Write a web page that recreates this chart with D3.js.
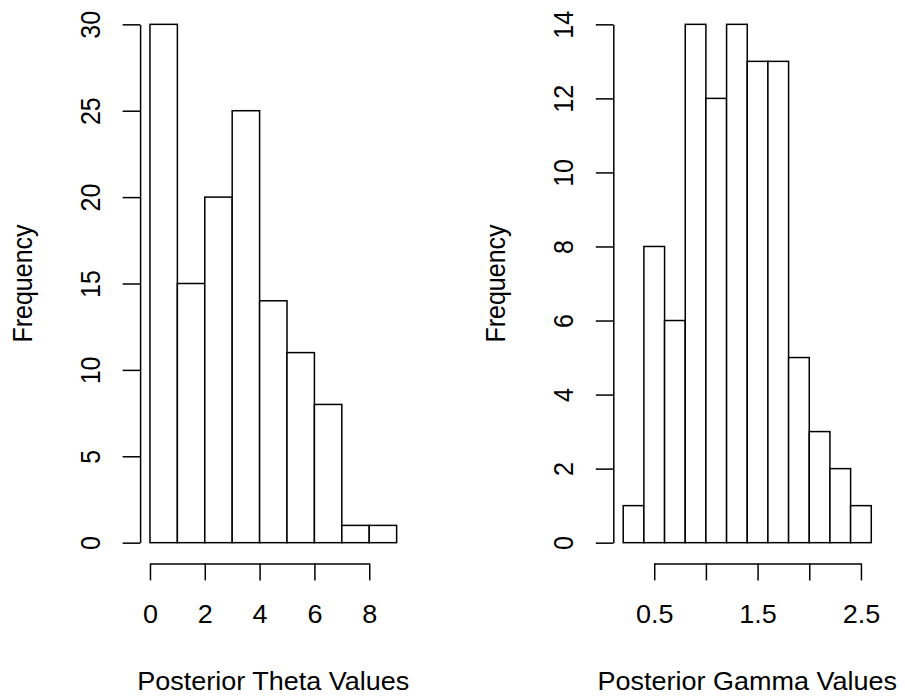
<!DOCTYPE html>
<html>
<head>
<meta charset="utf-8">
<script src="https://cdn.jsdelivr.net/npm/d3@7"></script>
<style>
  html, body { margin: 0; padding: 0; background: #fff; }
  svg text { font-family: "Liberation Sans", Arial, Helvetica, sans-serif; fill: #000; }
</style>
</head>
<body>
<svg id="chart" width="905" height="698"></svg>
<script>
// histogram data
var thetaBreaks = [0, 1, 2, 3, 4, 5, 6, 7, 8, 9];
var thetaCounts = [30, 15, 20, 25, 14, 11, 8, 1, 1];
var thetaXTicks = [0, 2, 4, 6, 8];
var thetaXLabels = ["0", "2", "4", "6", "8"];
var thetaYTicks = [0, 5, 10, 15, 20, 25, 30];

var gammaBreaks = [0.2, 0.4, 0.6, 0.8, 1.0, 1.2, 1.4, 1.6, 1.8, 2.0, 2.2, 2.4, 2.6];
var gammaCounts = [1, 8, 6, 14, 12, 14, 13, 13, 5, 3, 2, 1];
var gammaXTicks = [0.5, 1.0, 1.5, 2.0, 2.5];
var gammaXLabels = ["0.5", "", "1.5", "", "2.5"]; // R drops the overlapping ones
var gammaYTicks = [0, 2, 4, 6, 8, 10, 12, 14];

var svg = d3.select("#chart");
var fontSize = 25, stretch = 1.08, lw = 1.5;
var plotTop = 3.6, plotBottom = 563.4;

function histogram(opts) {
  var breaks = opts.breaks, counts = opts.counts;
  var bins = counts.map(function (c, i) { return { x0: breaks[i], x1: breaks[i + 1], n: c }; });

  // R style 4% extension of the data range
  var xr = [breaks[0], breaks[breaks.length - 1]];
  var xpad = (xr[1] - xr[0]) * 0.04;
  var ymax = d3.max(opts.yTicks);
  var ypad = ymax * 0.04;

  var x = d3.scaleLinear()
    .domain([xr[0] - xpad, xr[1] + xpad])
    .range([opts.left, opts.right]);
  var y = d3.scaleLinear()
    .domain([-ypad, ymax + ypad])
    .range([plotBottom, plotTop]);

  var g = svg.append("g");

  g.selectAll("rect")
    .data(bins)
    .enter().append("rect")
    .attr("x", function (d) { return x(d.x0); })
    .attr("y", function (d) { return y(d.n); })
    .attr("width", function (d) { return x(d.x1) - x(d.x0); })
    .attr("height", function (d) { return y(0) - y(d.n); })
    .attr("fill", "#fff")
    .attr("stroke", "#000")
    .attr("stroke-width", lw);

  // axis line only spans first..last tick, like R
  var xt = opts.xTicks;
  var xAxisScale = d3.scaleLinear()
    .domain([xt[0], xt[xt.length - 1]])
    .range([x(xt[0]), x(xt[xt.length - 1])]);

  var xa = g.append("g")
    .attr("transform", "translate(0," + plotBottom + ")")
    .call(d3.axisBottom(xAxisScale)
      .tickValues(xt)
      .tickSize(17)
      .tickSizeOuter(0)
      .tickFormat(function (d, i) { return opts.xLabels[i]; }));

  xa.selectAll("text")
    .attr("y", null)
    .attr("dy", null)
    .attr("font-size", fontSize)
    .attr("text-anchor", "middle")
    .attr("transform", "translate(0,60) scale(" + stretch + ",1)");

  var yt = opts.yTicks;
  var yAxisScale = d3.scaleLinear()
    .domain([yt[0], yt[yt.length - 1]])
    .range([y(yt[0]), y(yt[yt.length - 1])]);

  var ya = g.append("g")
    .attr("transform", "translate(" + opts.left + ",0)")
    .call(d3.axisLeft(yAxisScale)
      .tickValues(yt)
      .tickSize(17.5)
      .tickSizeOuter(0)
      .tickFormat(d3.format("d")));

  ya.selectAll("text")
    .attr("x", null)
    .attr("dy", null)
    .attr("font-size", fontSize)
    .attr("text-anchor", "middle")
    .attr("transform", "translate(-40,0) scale(" + stretch + ",1) rotate(-90)");

  g.selectAll(".domain, .tick line")
    .attr("stroke", "#000")
    .attr("stroke-width", lw);
  ya.attr("font-family", null);
  xa.attr("font-family", null);

  // axis titles
  g.append("text")
    .attr("font-size", fontSize)
    .attr("text-anchor", "middle")
    .attr("transform", "translate(" + ((opts.left + opts.right) / 2) + ",689.5) scale(" + stretch + ",1)")
    .text(opts.xTitle);

  g.append("text")
    .attr("font-size", fontSize)
    .attr("text-anchor", "middle")
    .attr("transform", "translate(" + (opts.left - 108) + "," + ((plotTop + plotBottom) / 2) + ") scale(" + stretch + ",1) rotate(-90)")
    .text("Frequency");
}

histogram({
  breaks: thetaBreaks, counts: thetaCounts,
  xTicks: thetaXTicks, xLabels: thetaXLabels, yTicks: thetaYTicks,
  left: 140.1, right: 406.5,
  xTitle: "Posterior Theta Values"
});

histogram({
  breaks: gammaBreaks, counts: gammaCounts,
  xTicks: gammaXTicks, xLabels: gammaXLabels, yTicks: gammaYTicks,
  left: 613.3, right: 881.2,
  xTitle: "Posterior Gamma Values"
});
</script>
</body>
</html>
